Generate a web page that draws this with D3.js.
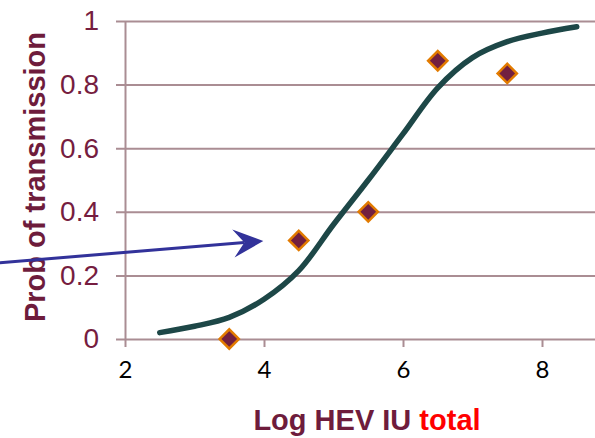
<!DOCTYPE html>
<html>
<head>
<meta charset="utf-8">
<script src="https://cdn.jsdelivr.net/npm/d3@7"></script>
<style>
  html, body { margin: 0; padding: 0; background: #fff; }
  svg { display: block; }
</style>
</head>
<body>
<div id="chart"></div>
<script>
// observed points (Log HEV IU, probability)
const pointX = [3.5, 4.5, 5.5, 6.5, 7.5];
const pointY = [0, 0.31, 0.40, 0.875, 0.835];

// fitted curve
const curveX = [2.5, 3.0, 3.5, 4.0, 4.5, 5.0, 5.5, 6.0, 6.5, 7.0, 7.5, 8.0, 8.5];
const curveY = [0.02, 0.04, 0.068, 0.125, 0.215, 0.36, 0.5, 0.645, 0.79, 0.885, 0.935, 0.962, 0.982];

const xTicks = [2, 4, 6, 8];
const yTicks = [0, 0.2, 0.4, 0.6, 0.8, 1];

// annotation arrow, in data units
const arrowFrom = [0.2, 0.24];
const arrowTo = [3.99, 0.308];

const width = 595;
const height = 438;
const margin = { top: 21, left: 125, bottom: 99 };

const x = d3.scaleLinear().domain([2, 10]).range([margin.left, margin.left + 69.5 * 8]);
const y = d3.scaleLinear().domain([0, 1]).range([height - margin.bottom, margin.top]);

const svg = d3.select("#chart").append("svg")
  .attr("width", width)
  .attr("height", height)
  .attr("viewBox", [0, 0, width, height]);

const gridColor = "#aa8d93";
const maroon = "#761d40";

// y axis with gridlines
const gY = svg.append("g")
  .attr("transform", `translate(${margin.left},0)`)
  .call(d3.axisLeft(y).tickValues(yTicks).tickSize(9).tickSizeOuter(0).tickPadding(17)
    .tickFormat(d => d === 0 || d === 1 ? d3.format("d")(d) : d3.format(".1f")(d)));
gY.selectAll(".tick line")
  .attr("x1", width - margin.left)
  .attr("stroke", gridColor)
  .attr("stroke-width", 2);
gY.select(".domain").attr("stroke", gridColor).attr("stroke-width", 2);
gY.selectAll(".tick text")
  .attr("fill", maroon)
  .attr("font-family", "'Liberation Sans', Arial, sans-serif")
  .attr("font-size", 28);

// x axis ticks
const gX = svg.append("g")
  .attr("transform", `translate(0,${y(0)})`)
  .call(d3.axisBottom(x).tickValues(xTicks).tickSize(8).tickPadding(14));
gX.select(".domain").remove();
gX.selectAll(".tick line").attr("stroke", gridColor).attr("stroke-width", 2);
gX.selectAll(".tick text")
  .attr("fill", "#000")
  .attr("font-family", "Lato, 'Open Sans', sans-serif")
  .attr("font-size", 24);

// curve
const line = d3.line()
  .x((d, i) => x(curveX[i]))
  .y(d => y(d))
  .curve(d3.curveCatmullRom.alpha(0.5));
svg.append("path")
  .datum(curveY)
  .attr("fill", "none")
  .attr("stroke", "#1d4747")
  .attr("stroke-width", 5.5)
  .attr("stroke-linecap", "round")
  .attr("d", line);

// points
const diamond = d3.symbol().type(d3.symbolSquare).size(185);
svg.append("g")
  .selectAll("path")
  .data(pointY)
  .join("path")
  .attr("transform", (d, i) => `translate(${x(pointX[i])},${y(d)}) rotate(45)`)
  .attr("d", diamond)
  .attr("fill", "#722040")
  .attr("stroke", "#e27b00")
  .attr("stroke-width", 2.5);

// axis titles
svg.append("text")
  .attr("transform", `translate(44.5,${177})rotate(-90)`)
  .attr("text-anchor", "middle")
  .attr("font-family", "'Liberation Sans', Arial, sans-serif")
  .attr("font-weight", "bold")
  .attr("font-size", 29)
  .attr("fill", "#6e1c3c")
  .text("Prob of transmission");

const xTitle = svg.append("text")
  .attr("x", 367)
  .attr("y", 430)
  .attr("text-anchor", "middle")
  .attr("font-family", "'Liberation Sans', Arial, sans-serif")
  .attr("font-weight", "bold")
  .attr("font-size", 29)
  .attr("fill", "#6e1c3c");
xTitle.append("tspan").text("Log HEV IU ");
xTitle.append("tspan").attr("fill", "#ff0000").text("total");

// annotation arrow
const arrowColor = "#32329a";
const x0 = x(arrowFrom[0]), y0 = y(arrowFrom[1]);
const x1 = x(arrowTo[0]), y1 = y(arrowTo[1]);
const ang = Math.atan2(y1 - y0, x1 - x0);
const headLen = 30, headBack = 19, headHalf = 14;
const pt = (a, b) => [x1 - a * Math.cos(ang) + b * Math.sin(ang), y1 - a * Math.sin(ang) - b * Math.cos(ang)];
svg.append("line")
  .attr("x1", x0).attr("y1", y0)
  .attr("x2", pt(headBack, 0)[0]).attr("y2", pt(headBack, 0)[1])
  .attr("stroke", arrowColor)
  .attr("stroke-width", 3);
svg.append("path")
  .attr("d", "M" + [[x1, y1], pt(headLen, headHalf), pt(headBack, 0), pt(headLen, -headHalf)].join("L") + "Z")
  .attr("fill", arrowColor);
</script>
</body>
</html>
